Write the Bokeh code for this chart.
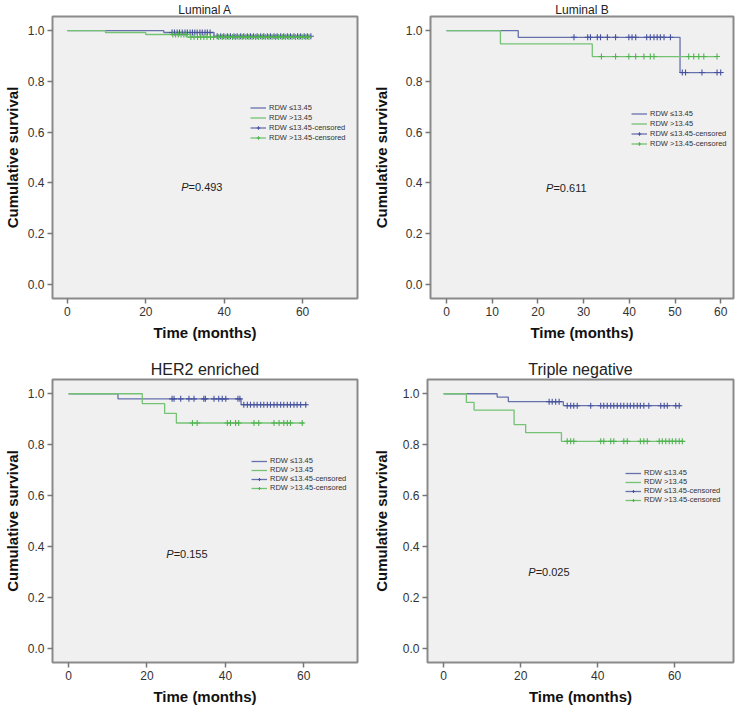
from bokeh.plotting import figure
from bokeh.layouts import column, row
from bokeh.models import Legend, LegendItem, Range1d, FixedTicker, PrintfTickFormatter
from bokeh.core.properties import value
from bokeh.embed import file_html
from bokeh.resources import INLINE

FONT = "Liberation Sans"

# ---------------- data ----------------
# Luminal A
la_low_times = [24.6, 37.4]
la_low_surv = [0.993, 0.978]
la_low_end = 62.1
la_low_cens = [26.7, 27.3, 28.0, 28.6, 29.3, 30.0, 30.6, 31.3, 31.9, 32.5, 33.1, 33.8,
               34.4, 35.1, 35.7, 36.4, 38.2, 39.1, 39.9, 40.8, 41.6, 42.5, 43.3, 44.2,
               45.0, 45.9, 46.7, 47.5, 48.4, 49.3, 50.1, 51.0, 51.8, 52.7, 53.5, 54.4,
               55.2, 56.1, 56.9, 57.8, 58.7, 59.5, 60.4, 61.2, 62.1]
la_high_times = [9.7, 20.0, 30.6]
la_high_surv = [0.993, 0.985, 0.975]
la_high_end = 62.1
la_high_cens = [26.9, 27.6, 28.3, 29.0, 29.7, 30.3, 31.5, 32.3, 33.2, 34.0, 34.8, 35.6,
                36.5, 37.3, 38.6, 39.5, 40.4, 41.2, 42.1, 42.9, 43.8, 44.6, 45.5, 46.3,
                47.1, 48.0, 48.8, 49.7, 50.5, 51.4, 52.2, 53.1, 53.9, 54.8, 55.6, 56.5,
                57.3, 58.2, 59.1, 59.9, 60.8, 61.6]

# Luminal B
lb_low_times = [15.7, 51.1]
lb_low_surv = [0.974, 0.835]
lb_low_end = 60.1
lb_low_cens = [27.9, 30.9, 31.5, 33.0, 33.7, 35.2, 37.0, 39.9, 40.6, 41.4, 43.8, 44.6,
               45.4, 46.1, 46.8, 47.6, 49.0, 51.6, 52.3, 55.9, 59.2, 60.0]
lb_high_times = [11.8, 31.9]
lb_high_surv = [0.948, 0.898]
lb_high_end = 59.2
lb_high_cens = [33.9, 37.0, 39.9, 41.4, 43.2, 44.6, 45.4, 53.0, 54.1, 55.2, 56.3, 59.2]

# HER2 enriched
he_low_times = [12.6, 44.0]
he_low_surv = [0.980, 0.957]
he_low_end = 60.9
he_low_cens = [26.4, 26.9, 28.6, 30.7, 32.0, 34.5, 34.9, 37.1, 38.3, 39.2, 40.1, 43.2,
               43.7, 44.7, 45.6, 46.4, 47.3, 48.1, 49.0, 49.8, 50.7, 51.5, 52.4, 53.2,
               54.1, 54.9, 55.8, 56.6, 57.5, 58.3, 59.2, 60.5]
he_high_times = [18.8, 24.5, 27.5]
he_high_surv = [0.961, 0.923, 0.885]
he_high_end = 60.0
he_high_cens = [31.6, 32.8, 40.5, 41.3, 42.6, 43.4, 47.3, 48.5, 52.4, 53.7, 54.9, 55.8,
                56.6, 59.6]

# Triple negative
tn_low_times = [13.9, 16.8, 31.1]
tn_low_surv = [0.987, 0.969, 0.953]
tn_low_end = 61.6
tn_low_cens = [27.4, 28.2, 29.1, 30.0, 32.1, 33.0, 33.8, 34.7, 38.2, 40.8, 41.6, 42.5,
               43.4, 44.2, 45.1, 46.0, 46.8, 47.7, 48.5, 49.4, 50.3, 51.1, 52.0, 53.3,
               56.4, 57.3, 58.1, 60.3, 61.2]
tn_high_times = [5.9, 7.9, 18.3, 21.3, 30.6]
tn_high_surv = [0.966, 0.936, 0.879, 0.847, 0.813]
tn_high_end = 62.4
tn_high_cens = [32.1, 33.0, 33.8, 40.8, 41.6, 43.4, 44.2, 46.8, 47.7, 51.1, 52.0, 52.9,
                56.0, 56.8, 57.7, 58.6, 59.4, 60.3, 61.2, 62.0]

titles = ["Luminal A", "Luminal B", "HER2 enriched", "Triple negative"]
p_values = ["=0.493", "=0.611", "=0.155", "=0.025"]
p_pos_x = [30.9, 23.4, 26.8, 23.9]
p_pos_y = [0.383, 0.38, 0.37, 0.30]
x_ticks_list = [[0, 20, 40, 60], [0, 10, 20, 30, 40, 50, 60], [0, 20, 40, 60], [0, 20, 40, 60]]
y_ticks = [0.0, 0.2, 0.4, 0.6, 0.8, 1.0]
legend_labels = ["RDW \u226413.45", "RDW >13.45", "RDW \u226413.45-censored", "RDW >13.45-censored"]

BLUE_LINE = "#6670ad"
GREEN_LINE = "#74c274"
BLUE_MARK = "#46529e"
GREEN_MARK = "#4fb34f"


def surv_at(times, survs, t):
    s = 1.0
    for ti, si in zip(times, survs):
        if ti <= t:
            s = si
    return s


def make_panel(title, tsize, x_range, xticks, groups, ptext, px, py,
               width, height, bl, br, bt, bb, ylab_standoff, title_standoff,
               leg_loc, row_h, row_sp):
    p = figure(width=width, height=height, output_backend="svg", toolbar_location=None,
               x_range=Range1d(*x_range), y_range=Range1d(-0.056, 1.056),
               min_border_left=bl, min_border_right=br, min_border_top=bt,
               min_border_bottom=bb)
    p.title.text = title
    p.title.align = "center"
    p.title.text_font = FONT
    p.title.text_font_size = tsize
    p.title.text_font_style = "normal"
    p.title.text_color = "#222222"
    p.title.standoff = title_standoff
    p.background_fill_color = "#f0f0f0"
    p.border_fill_color = "white"
    p.outline_line_color = "#8a8a8a"
    p.outline_line_width = 2
    p.grid.visible = False

    p.xaxis.ticker = FixedTicker(ticks=xticks)
    p.yaxis.ticker = FixedTicker(ticks=y_ticks)
    p.yaxis.formatter = PrintfTickFormatter(format="%.1f")
    p.axis.axis_line_color = None
    p.axis.major_tick_line_color = "#777777"
    p.axis.major_tick_line_width = 1.5
    p.axis.major_tick_out = 5
    p.axis.major_tick_in = 0
    p.axis.minor_tick_line_color = None
    p.axis.major_label_text_font = FONT
    p.axis.major_label_text_font_size = "12px"
    p.axis.major_label_text_color = "#333333"
    p.axis.major_label_standoff = 3
    p.axis.axis_label_text_font = FONT
    p.axis.axis_label_text_font_size = "15px"
    p.axis.axis_label_text_font_style = "bold"
    p.axis.axis_label_text_color = "#111111"
    p.xaxis.axis_label = "Time (months)"
    p.yaxis.axis_label = "Cumulative survival"
    p.xaxis.axis_label_standoff = 5
    p.yaxis.axis_label_standoff = ylab_standoff

    items = []
    step_rs = []
    scat_rs = []
    for (times, survs, end, cens), lc, mc in zip(groups, [BLUE_LINE, GREEN_LINE], [BLUE_MARK, GREEN_MARK]):
        xs = [0.0] + list(times) + [end]
        ys = [1.0] + list(survs) + [survs[-1]]
        sr = p.step(xs, ys, mode="after", line_color=lc, line_width=1.3)
        cy = [surv_at(times, survs, t) for t in cens]
        cr = p.scatter(cens, cy, marker="cross", size=6, line_color=mc, line_width=1.1)
        step_rs.append(sr)
        scat_rs.append(cr)
    items.append(LegendItem(label=legend_labels[0], renderers=[step_rs[0]]))
    items.append(LegendItem(label=legend_labels[1], renderers=[step_rs[1]]))
    items.append(LegendItem(label=legend_labels[2], renderers=[step_rs[0], scat_rs[0]]))
    items.append(LegendItem(label=legend_labels[3], renderers=[step_rs[1], scat_rs[1]]))
    leg = Legend(items=items, location=leg_loc, background_fill_alpha=0,
                 border_line_color=None, label_text_font=FONT, label_text_font_size="7.5px",
                 label_text_color="#333333", label_height=row_h, glyph_height=row_h,
                 glyph_width=16, spacing=row_sp, padding=2, margin=0, label_standoff=3)
    p.add_layout(leg)

    p.text(x=[px], y=[py], text=["P"], text_align="right", text_baseline="middle",
           text_font=value(FONT), text_font_size="11px", text_font_style="italic",
           text_color="#222222")
    p.text(x=[px], y=[py], text=[ptext], text_align="left", text_baseline="middle",
           text_font=value(FONT), text_font_size="11px", text_color="#222222")
    return p


p1 = make_panel(titles[0], "12px", (-3.8, 74.0), x_ticks_list[0],
                [(la_low_times, la_low_surv, la_low_end, la_low_cens),
                 (la_high_times, la_high_surv, la_high_end, la_high_cens)],
                p_values[0], p_pos_x[0], p_pos_y[0],
                369, 345, 52, 12, 13, 47, 4, 0, (198, 156), 9, 1)
p2 = make_panel(titles[1], "12px", (-3.5, 62.8), x_ticks_list[1],
                [(lb_low_times, lb_low_surv, lb_low_end, lb_low_cens),
                 (lb_high_times, lb_high_surv, lb_high_end, lb_high_cens)],
                p_values[1], p_pos_x[1], p_pos_y[1],
                370, 345, 61, 6, 13, 47, 13, 0, (201, 150), 9, 1)
p3 = make_panel(titles[2], "16px", (-4.1, 73.7), x_ticks_list[2],
                [(he_low_times, he_low_surv, he_low_end, he_low_cens),
                 (he_high_times, he_high_surv, he_high_end, he_high_cens)],
                p_values[2], p_pos_x[2], p_pos_y[2],
                369, 362, 52, 12, 34, 42, 4, 4, (199, 170), 8, 0)
p4 = make_panel(titles[3], "16px", (-4.2, 75.3), x_ticks_list[3],
                [(tn_low_times, tn_low_surv, tn_low_end, tn_low_cens),
                 (tn_high_times, tn_high_surv, tn_high_end, tn_high_cens)],
                p_values[3], p_pos_x[3], p_pos_y[3],
                370, 362, 58, 6, 34, 42, 10, 4, (198, 158), 8, 0)

layout = column(row(p1, p2), row(p3, p4))
open("out.html", "w").write(file_html(layout, INLINE))
